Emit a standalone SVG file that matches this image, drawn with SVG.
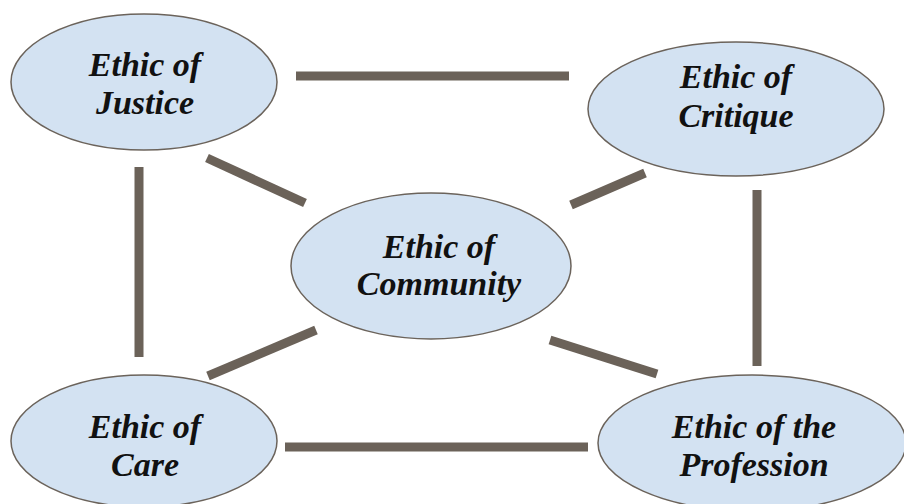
<svg xmlns="http://www.w3.org/2000/svg" width="904" height="504" viewBox="0 0 904 504">
<style>
.node{fill:#d3e2f2;stroke:#6b635b;stroke-width:1.5}
.lbl{font-family:"Liberation Serif","Times New Roman",serif;font-style:italic;font-weight:bold;font-size:34px;fill:#111;text-anchor:middle}
.conn line{stroke:#6b6259;stroke-width:9}
</style>
<rect width="904" height="504" fill="#ffffff"/>
<g id="connectors" class="conn">
<line x1="296" y1="76" x2="569" y2="76"/>
<line x1="139" y1="167" x2="139" y2="357"/>
<line x1="757" y1="190" x2="757" y2="366"/>
<line x1="285" y1="447" x2="588" y2="447"/>
<line x1="207" y1="158" x2="305" y2="203"/>
<line x1="645" y1="173" x2="571" y2="205"/>
<line x1="316" y1="330" x2="208" y2="376"/>
<line x1="550" y1="340" x2="657" y2="374"/>
</g>
<g id="justice">
<ellipse class="node" cx="144" cy="82" rx="133" ry="68"/>
<text class="lbl" x="145" y="76">Ethic of</text>
<text class="lbl" x="145" y="114">Justice</text>
</g>
<g id="critique">
<ellipse class="node" cx="736" cy="109" rx="148" ry="67"/>
<text class="lbl" x="736" y="88">Ethic of</text>
<text class="lbl" x="736" y="127">Critique</text>
</g>
<g id="community">
<ellipse class="node" cx="431" cy="266" rx="140" ry="73"/>
<text class="lbl" x="439" y="258">Ethic of</text>
<text class="lbl" x="439" y="295">Community</text>
</g>
<g id="care">
<ellipse class="node" cx="144" cy="441" rx="133" ry="66"/>
<text class="lbl" x="145" y="438">Ethic of</text>
<text class="lbl" x="145" y="476">Care</text>
</g>
<g id="profession">
<ellipse class="node" cx="752" cy="443" rx="154" ry="68"/>
<text class="lbl" x="754" y="438">Ethic of the</text>
<text class="lbl" x="754" y="476">Profession</text>
</g>
</svg>
